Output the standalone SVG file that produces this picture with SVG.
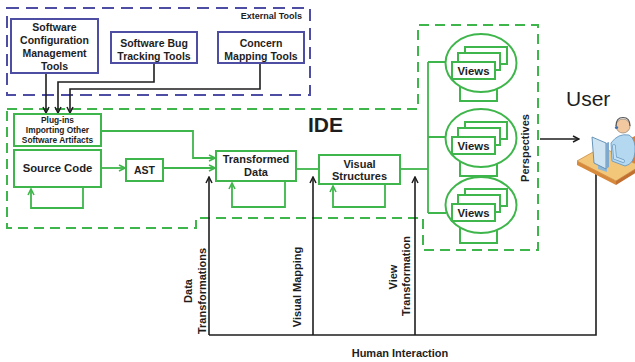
<svg xmlns="http://www.w3.org/2000/svg" width="635" height="362" viewBox="0 0 635 362">
  <style>
    text { font-family: "Liberation Sans", Arial, sans-serif; font-weight: bold; fill: #1e1e1e; }
    .c { text-anchor: middle; }
    .ext { fill: #fff; stroke: #4d4da3; stroke-width: 2; }
    .gbox { fill: #fff; stroke: #3fb64b; stroke-width: 2; }
    .gdash { fill: none; stroke: #3fb64b; stroke-width: 2; stroke-dasharray: 10 6; }
    .pdash { fill: none; stroke: #4d4da3; stroke-width: 2; stroke-dasharray: 12 7; }
    .gl { fill: none; stroke: #3fb64b; stroke-width: 1.8; }
    .bl { fill: none; stroke: #1e1e1e; stroke-width: 1.6; }
    .t105 { font-size: 10.5px; }
    .t11 { font-size: 11px; }
    .t85 { font-size: 8.4px; }
    .vw { font-size: 11.4px; }
  </style>
  <defs>
    <marker id="ab" viewBox="0 0 8 8" refX="7" refY="4" markerWidth="8" markerHeight="8" orient="auto" markerUnits="userSpaceOnUse">
      <path d="M1,1 L7,4 L1,7" fill="none" stroke="#1e1e1e" stroke-width="1.5"/>
    </marker>
    <marker id="ag" viewBox="0 0 8 8" refX="7" refY="4" markerWidth="8" markerHeight="8" orient="auto" markerUnits="userSpaceOnUse">
      <path d="M1,1 L7,4 L1,7" fill="none" stroke="#3fb64b" stroke-width="1.6"/>
    </marker>
  </defs>

  <rect width="635" height="362" fill="#fff"/>

  <!-- boundaries -->
  <g id="external-tools-boundary">
    <rect class="pdash" x="7" y="8" width="303" height="87"/>
    <text x="302" y="19" text-anchor="end" style="font-size:9px">External Tools</text>
  </g>
  <g id="ide-boundary">
    <path class="gdash" d="M7,109 H418 V25 H538 V250 H423 V218 H196 V228 H7 Z"/>
    <text x="308" y="132" style="font-size:21px">IDE</text>
    <text transform="translate(529,148) rotate(-90)" class="c t11">Perspectives</text>
  </g>

  <!-- connectors -->
  <g id="connectors">
    <path class="bl" d="M46,73 V113" marker-end="url(#ab)"/>
    <path class="bl" d="M154,63 V82 H58 V113" marker-end="url(#ab)"/>
    <path class="bl" d="M260,63 V89 H70 V113" marker-end="url(#ab)"/>

    <path class="gl" d="M101,131 H193 V158 H215" marker-end="url(#ag)"/>
    <path class="gl" d="M101,168 H125" marker-end="url(#ag)"/>
    <path class="gl" d="M163,168 H215" marker-end="url(#ag)"/>
    <path class="gl" d="M296,169 H319"/>
    <path class="gl" d="M400,169 H428"/>
    <path class="gl" d="M428,62 V213"/>
    <path class="gl" d="M428,62 H446 M428,137 H446 M428,213 H446"/>

    <path class="gl" d="M83,187 V208 H31 V189" marker-end="url(#ag)"/>
    <path class="gl" d="M285,181 V207 H232 V183" marker-end="url(#ag)"/>
    <path class="gl" d="M385,184 V207 H333 V186" marker-end="url(#ag)"/>

    <path class="bl" d="M209,335 H596 V172"/>
    <path class="bl" d="M209,335 V177" marker-end="url(#ab)"/>
    <path class="bl" d="M313,335 V177" marker-end="url(#ab)"/>
    <path class="bl" d="M415,335 V177" marker-end="url(#ab)"/>
    <path class="bl" d="M540,139 H579" marker-end="url(#ab)"/>

    <text x="192" y="291" transform="rotate(-90 192 291)" class="c t11">Data</text>
    <text x="206" y="291" transform="rotate(-90 206 291)" class="c t11">Transformations</text>
    <text x="301" y="287" transform="rotate(-90 301 287)" class="c t11">Visual Mapping</text>
    <text x="397" y="277" transform="rotate(-90 397 277)" class="c t11">View</text>
    <text x="410" y="276" transform="rotate(-90 410 276)" class="c t11">Transformation</text>
    <text x="400" y="357" class="c t11">Human Interaction</text>
  </g>

  <!-- external tool nodes -->
  <g id="scm-tools">
    <rect class="ext" x="11" y="19" width="87" height="54"/>
    <text x="54.5" y="31" class="c t105">Software</text>
    <text x="54.5" y="44" class="c t105">Configuration</text>
    <text x="54.5" y="57" class="c t105">Management</text>
    <text x="54.5" y="69.5" class="c t105">Tools</text>
  </g>
  <g id="bug-tracking-tools">
    <rect class="ext" x="111" y="32" width="86" height="31"/>
    <text x="154" y="47" class="c t105">Software Bug</text>
    <text x="154" y="60" class="c t105">Tracking Tools</text>
  </g>
  <g id="concern-mapping-tools">
    <rect class="ext" x="218" y="32" width="86" height="31"/>
    <text x="261" y="47" class="c t105">Concern</text>
    <text x="261" y="60" class="c t105">Mapping Tools</text>
  </g>

  <!-- IDE pipeline nodes -->
  <g id="plugins">
    <rect class="gbox" x="14" y="114" width="87" height="32"/>
    <text x="57.5" y="123" class="c t85">Plug-ins</text>
    <text x="57.5" y="133" class="c t85">Importing Other</text>
    <text x="57.5" y="143" class="c t85">Software Artifacts</text>
  </g>
  <g id="source-code">
    <rect class="gbox" x="14" y="150" width="87" height="37"/>
    <text x="57.5" y="172" class="c" style="font-size:11.3px">Source Code</text>
  </g>
  <g id="ast">
    <rect class="gbox" x="126" y="159" width="37" height="22"/>
    <text x="144.5" y="174" class="c t105">AST</text>
  </g>
  <g id="transformed-data">
    <rect class="gbox" x="216" y="151" width="80" height="30"/>
    <text x="256" y="163" class="c t11">Transformed</text>
    <text x="256" y="176" class="c t11">Data</text>
  </g>
  <g id="visual-structures">
    <rect class="gbox" x="319" y="155" width="81" height="29"/>
    <text x="359.5" y="168" class="c t11">Visual</text>
    <text x="359.5" y="180" class="c t11">Structures</text>
  </g>

  <!-- perspectives, each a stack of views -->
  <g id="perspective-1" transform="translate(481,63)">
    <rect class="gbox" x="-21" y="10" width="37" height="28"/>
    <ellipse class="gbox" cx="0" cy="0" rx="35.5" ry="29"/>
    <rect class="gbox" x="-16" y="-16" width="42" height="17"/>
    <rect class="gbox" x="-23" y="-10" width="42" height="17"/>
    <rect class="gbox" x="-29" y="-1" width="43" height="17"/>
    <text x="-7.5" y="11.8" class="c vw">Views</text>
  </g>
  <g id="perspective-2" transform="translate(481,138)">
    <rect class="gbox" x="-21" y="10" width="37" height="28"/>
    <ellipse class="gbox" cx="0" cy="0" rx="35.5" ry="29"/>
    <rect class="gbox" x="-16" y="-16" width="42" height="17"/>
    <rect class="gbox" x="-23" y="-10" width="42" height="17"/>
    <rect class="gbox" x="-29" y="-1" width="43" height="17"/>
    <text x="-7.5" y="11.8" class="c vw">Views</text>
  </g>
  <g id="perspective-3" transform="translate(481,205)">
    <rect class="gbox" x="-21" y="10" width="37" height="28"/>
    <ellipse class="gbox" cx="0" cy="0" rx="35.5" ry="28"/>
    <rect class="gbox" x="-16" y="-16" width="42" height="17"/>
    <rect class="gbox" x="-23" y="-10" width="42" height="17"/>
    <rect class="gbox" x="-29" y="-1" width="43" height="17"/>
    <text x="-7.5" y="11.8" class="c vw">Views</text>
  </g>

  <!-- user at workstation -->
  <g id="user">
    <text x="566" y="106" style="font-size:21px;font-weight:normal">User</text>
    <!-- partition behind the desk -->
    <polygon points="629,139 637,135 637,162 629,166" fill="#e27b32"/>
    <!-- desk -->
    <polygon points="577,161 602,147 640,166 616,181" fill="#f3c77a" stroke="#c98a40" stroke-width="0.8"/>
    <polygon points="577,161 616,181 616,185 577,165" fill="#d88a3c"/>
    <polygon points="616,181 640,166 640,170 616,185" fill="#c27030"/>
    <!-- person -->
    <path d="M611,143 Q618,133 629,135 Q636,139 635,152 Q634,164 625,166 L612,161 Z" fill="#b4d8f0" stroke="#6a98c0" stroke-width="0.9"/>
    <circle cx="623" cy="126" r="7" fill="#f1c8a0" stroke="#9a8a7a" stroke-width="0.8"/>
    <path d="M616,126 Q616,117.5 623,117.5 Q630,117.5 630,126" fill="none" stroke="#555" stroke-width="1.1"/>
    <circle cx="616.5" cy="127.5" r="1.6" fill="#3b6fb0"/>
    <path d="M614,146 L615,158 L623,161" fill="none" stroke="#6a98c0" stroke-width="3.6" stroke-linecap="round"/>
    <path d="M614,146 L615,158 L623,161" fill="none" stroke="#c4e2f5" stroke-width="2.2" stroke-linecap="round"/>
    <!-- monitor -->
    <polygon points="598,165 607,168 607,172 598,169" fill="#8fb8d8"/>
    <polygon points="592,137 606,143 606,169 594,163" fill="#cfe4f3" stroke="#5a8ab0" stroke-width="0.9"/>
    <polygon points="606,143 609,142 609,167 606,169" fill="#7ea8cc"/>
  </g>
</svg>
